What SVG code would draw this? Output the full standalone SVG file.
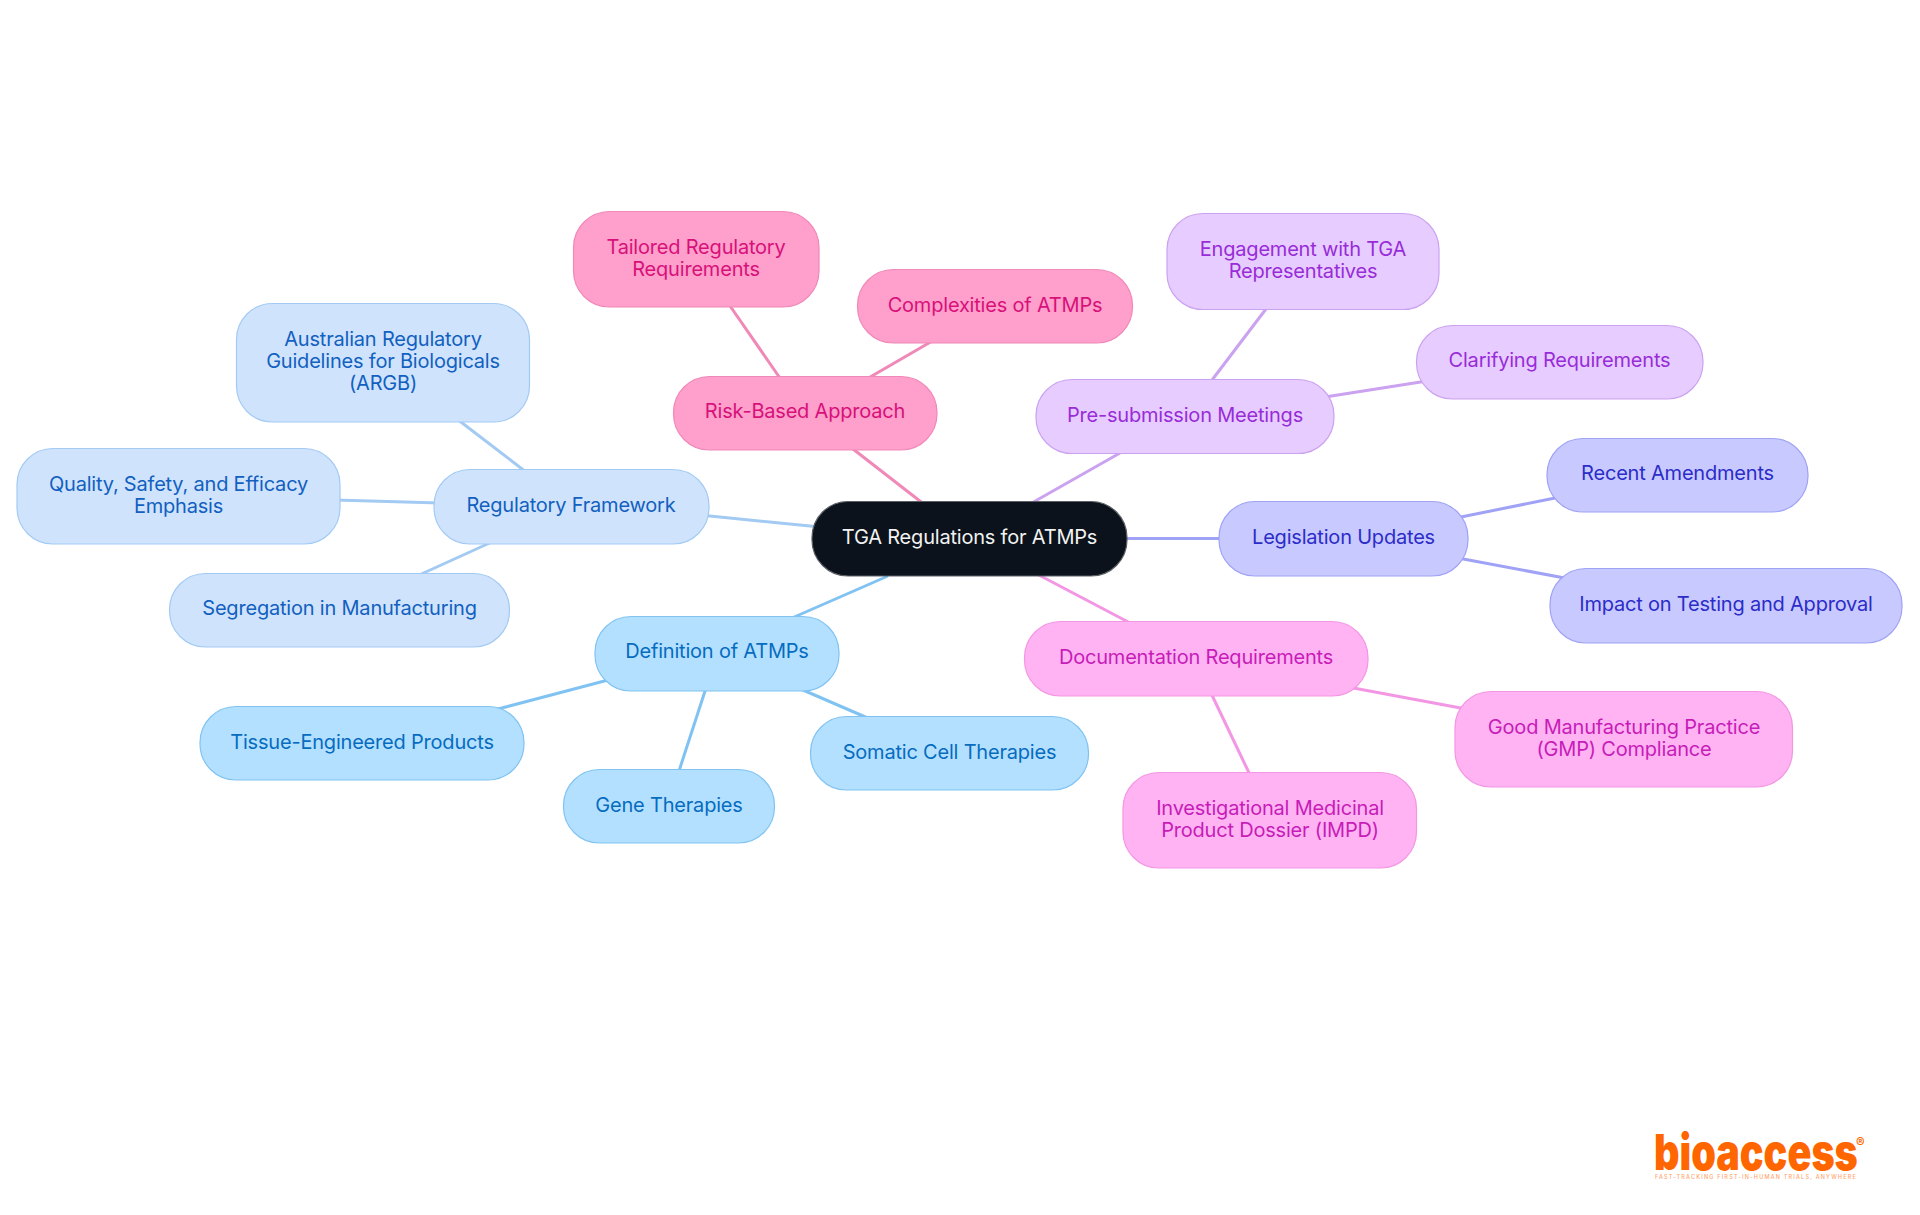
<svg xmlns="http://www.w3.org/2000/svg" width="1920" height="1215" viewBox="0 0 1920 1215">
<style>
text{font-family:"Inter","Noto Sans",sans-serif;font-size:20px;font-weight:385;letter-spacing:-.2px;text-anchor:middle}
rect{stroke-width:1.2}
#connectors line{stroke-width:3;fill:none}
.root rect{fill:#0b121b;stroke:#5c6066}.root text{fill:#f2f2f2}
.reg rect{fill:#cfe4fc;stroke:#a3caf3}.reg text{fill:#1260c0}
.def rect{fill:#b3e0ff;stroke:#80c3f2}.def text{fill:#066cc0}
.risk rect{fill:#ff9fcb;stroke:#f088b8}.risk text{fill:#d8107a}
.pre rect{fill:#e7ccff;stroke:#cba2f0}.pre text{fill:#982cd8}
.leg rect{fill:#c8caff;stroke:#9fa2f5}.leg text{fill:#2c2cc8}
.doc rect{fill:#ffb3f3;stroke:#f396e3}.doc text{fill:#c71cb8}
.c-reg{stroke:#a3caf3}.c-def{stroke:#80c3f2}.c-risk{stroke:#f088b8}.c-pre{stroke:#cba2f0}.c-leg{stroke:#9fa2f5}.c-doc{stroke:#f396e3}
#logo text{fill:#ff6600;text-anchor:start;letter-spacing:0}
</style>
<rect width="1920" height="1215" fill="#fff" style="stroke:none"/>
<g id="connectors">
<line class="c-reg" x1="700" y1="515" x2="820" y2="527"/>
<line class="c-risk" x1="853" y1="449" x2="925" y2="505"/>
<line class="c-pre" x1="1120" y1="453" x2="1030" y2="504"/>
<line class="c-leg" x1="1120" y1="538.5" x2="1225" y2="538.5"/>
<line class="c-doc" x1="1035" y1="573" x2="1132" y2="624"/>
<line class="c-def" x1="888" y1="576" x2="792" y2="618"/>
<line class="c-reg" x1="457" y1="419" x2="526" y2="472"/>
<line class="c-reg" x1="335" y1="500" x2="440" y2="503"/>
<line class="c-reg" x1="494" y1="541" x2="417" y2="576"/>
<line class="c-def" x1="612" y1="679" x2="498" y2="709"/>
<line class="c-def" x1="707" y1="685" x2="678" y2="774"/>
<line class="c-def" x1="796" y1="687" x2="870" y2="719"/>
<line class="c-risk" x1="782" y1="381" x2="728" y2="303"/>
<line class="c-risk" x1="865" y1="380" x2="934" y2="340"/>
<line class="c-pre" x1="1209" y1="384" x2="1269" y2="305"/>
<line class="c-pre" x1="1325" y1="397" x2="1427" y2="381"/>
<line class="c-leg" x1="1456" y1="518" x2="1560" y2="497"/>
<line class="c-leg" x1="1458" y1="558" x2="1570" y2="579"/>
<line class="c-doc" x1="1348" y1="687" x2="1466" y2="709"/>
<line class="c-doc" x1="1210" y1="691" x2="1251" y2="777"/>
</g>
<g id="root" class="root"><rect x="812" y="501.500" width="315" height="74.500" rx="36"/><text x="969.500" y="543.500">TGA Regulations for ATMPs</text></g>
<g id="regulatory-framework" class="reg"><rect x="434" y="469.500" width="275" height="74.500" rx="36"/><text x="571" y="511.500">Regulatory Framework</text></g>
<g id="australian" class="reg"><rect x="236.500" y="303.500" width="293" height="118.500" rx="36"/><text x="383" y="346">Australian Regulatory</text><text x="383" y="368">Guidelines for Biologicals</text><text x="383" y="390">(ARGB)</text></g>
<g id="quality" class="reg"><rect x="17" y="448.500" width="323" height="95.500" rx="36"/><text x="178.500" y="491">Quality, Safety, and Efficacy</text><text x="178.500" y="513">Emphasis</text></g>
<g id="segregation" class="reg"><rect x="169.500" y="573.500" width="340" height="73.500" rx="36"/><text x="339.500" y="615">Segregation in Manufacturing</text></g>
<g id="definition" class="def"><rect x="595" y="616.500" width="244" height="74.500" rx="36"/><text x="717" y="658">Definition of ATMPs</text></g>
<g id="tissue" class="def"><rect x="200" y="706.500" width="324" height="73.500" rx="36"/><text x="362" y="749">Tissue-Engineered Products</text></g>
<g id="gene" class="def"><rect x="563.500" y="769.500" width="211" height="73.500" rx="36"/><text x="669" y="812">Gene Therapies</text></g>
<g id="somatic" class="def"><rect x="810.500" y="716.500" width="278" height="73.500" rx="36"/><text x="949.500" y="759">Somatic Cell Therapies</text></g>
<g id="risk" class="risk"><rect x="673.500" y="376.500" width="263.500" height="73.500" rx="36"/><text x="805" y="418">Risk-Based Approach</text></g>
<g id="tailored" class="risk"><rect x="573.500" y="211.500" width="245.500" height="95.500" rx="36"/><text x="696" y="254">Tailored Regulatory</text><text x="696" y="276">Requirements</text></g>
<g id="complexities" class="risk"><rect x="857.500" y="269.500" width="275" height="73.500" rx="36"/><text x="995" y="312">Complexities of ATMPs</text></g>
<g id="presubmission" class="pre"><rect x="1036" y="379.500" width="298" height="74" rx="36"/><text x="1185" y="422">Pre-submission Meetings</text></g>
<g id="engagement" class="pre"><rect x="1167" y="213.500" width="272" height="96" rx="36"/><text x="1303" y="256">Engagement with TGA</text><text x="1303" y="278">Representatives</text></g>
<g id="clarifying" class="pre"><rect x="1416.500" y="325.500" width="286.500" height="73.500" rx="36"/><text x="1559.500" y="367">Clarifying Requirements</text></g>
<g id="legislation" class="leg"><rect x="1219" y="501.500" width="249" height="74.500" rx="36"/><text x="1343.500" y="544">Legislation Updates</text></g>
<g id="recent" class="leg"><rect x="1547" y="438.500" width="261" height="73.500" rx="36"/><text x="1677.500" y="480">Recent Amendments</text></g>
<g id="impact" class="leg"><rect x="1550" y="568.500" width="352" height="74.500" rx="36"/><text x="1726" y="611">Impact on Testing and Approval</text></g>
<g id="documentation" class="doc"><rect x="1024.500" y="621.500" width="343.500" height="74.500" rx="36"/><text x="1196" y="664">Documentation Requirements</text></g>
<g id="gmp" class="doc"><rect x="1455" y="691.500" width="337.500" height="95.500" rx="36"/><text x="1624" y="734">Good Manufacturing Practice</text><text x="1624" y="756">(GMP) Compliance</text></g>
<g id="impd" class="doc"><rect x="1123" y="772.500" width="293.500" height="95.500" rx="36"/><text x="1270" y="815">Investigational Medicinal</text><text x="1270" y="837">Product Dossier (IMPD)</text></g>
<g id="logo">
<text transform="translate(1654 1170) scale(.79 1)" x="0" y="0" style="font-size:50px;font-weight:900">bioaccess</text>
<text x="1856" y="1147" style="font-size:13px;font-weight:700">®</text>
<text x="1655" y="1179" style="font-size:5.500px;font-weight:500;letter-spacing:1.2px;opacity:.6">FAST-TRACKING FIRST-IN-HUMAN TRIALS, ANYWHERE</text>
</g>
</svg>
